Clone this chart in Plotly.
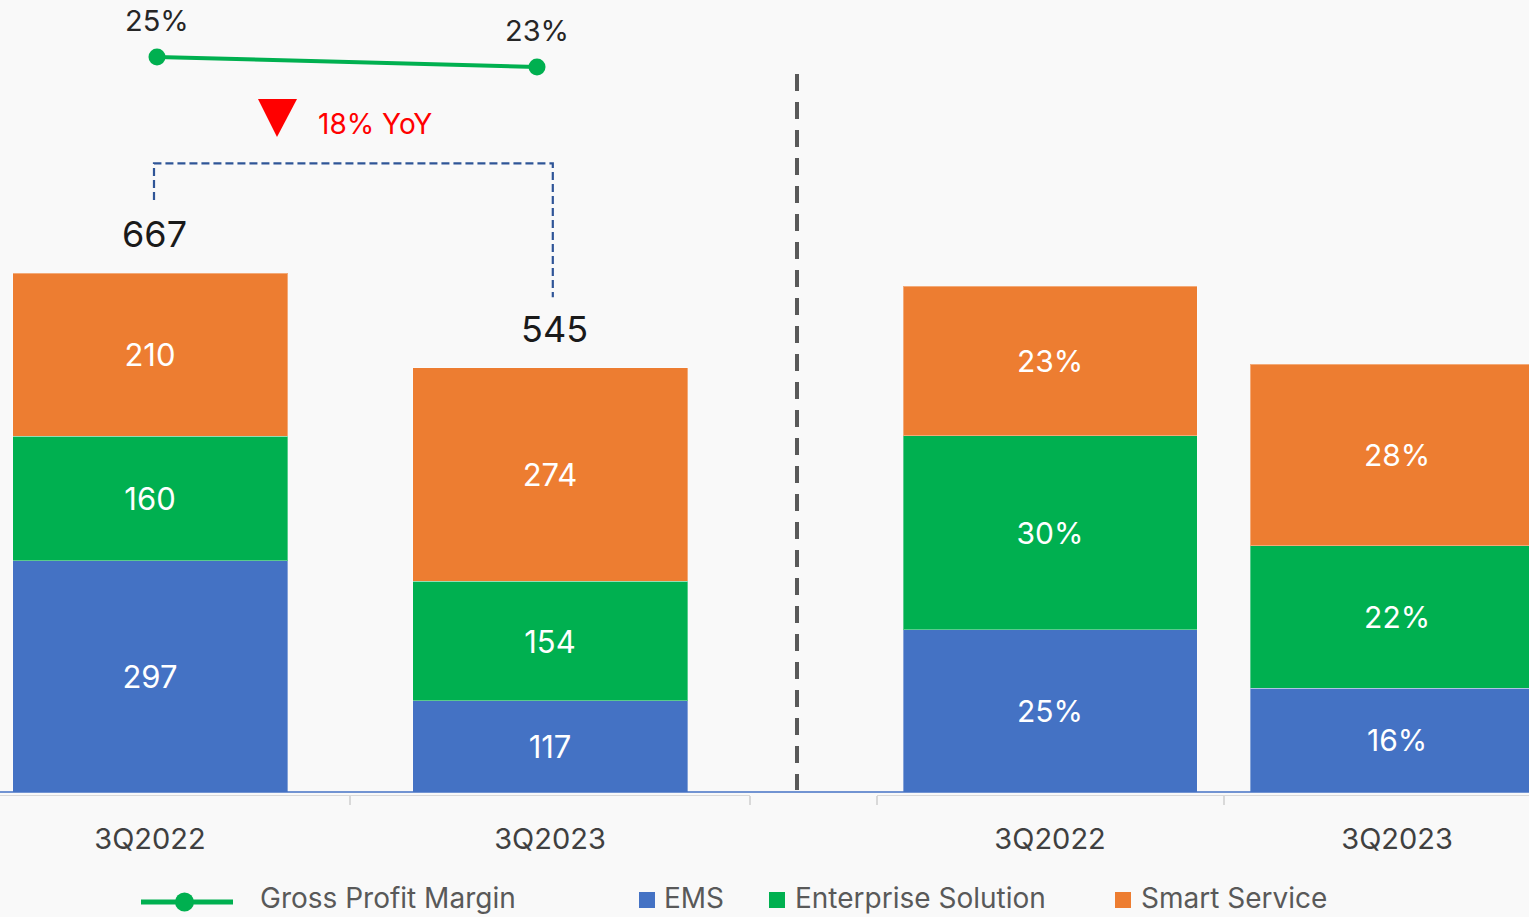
import plotly.graph_objects as go

# data
periods = ["3Q2022", "3Q2023"]
ems_rev = [297, 117]
ent_rev = [160, 154]
smart_rev = [210, 274]
total_rev = [667, 545]
gp_margin = [25, 23]
ems_gpm = [25, 16]
ent_gpm = [30, 22]
smart_gpm = [23, 28]
yoy_label = "18% YoY"
legend_names = ["Gross Profit Margin", "EMS", "Enterprise Solution", "Smart Service"]

W, H = 1529, 917
PLOT_H = 795  # plot area height in px (t=0)

BLUE = "#4472C4"
GREEN = "#00B050"
ORANGE = "#ED7D31"
FONT = "Inter"


def px(x):
    return x / W


def py(y):
    return (PLOT_H - y) / PLOT_H


fig = go.Figure()

# left panel: revenue
for vals, color, name in [(ems_rev, BLUE, "EMS"), (ent_rev, GREEN, "Enterprise Solution"),
                          (smart_rev, ORANGE, "Smart Service")]:
    fig.add_trace(go.Bar(x=periods, y=vals, name=name, marker=dict(color=color, line=dict(color="rgba(255,255,255,0.35)", width=1)),
                         width=0.6875, text=[str(v) for v in vals], textposition="inside",
                         insidetextanchor="middle", textangle=0,
                         textfont=dict(color="white", size=31, family=FONT),
                         xaxis="x", yaxis="y", showlegend=False))

# right panel: segment margins
for vals, color, name in [(ems_gpm, BLUE, "EMS"), (ent_gpm, GREEN, "Enterprise Solution"),
                          (smart_gpm, ORANGE, "Smart Service")]:
    fig.add_trace(go.Bar(x=periods, y=vals, name=name, marker=dict(color=color, line=dict(color="rgba(255,255,255,0.35)", width=1)),
                         width=0.847, text=[f"{v}%" for v in vals], textposition="inside",
                         insidetextanchor="middle", textangle=0,
                         textfont=dict(color="white", size=30, family=FONT),
                         xaxis="x2", yaxis="y2", showlegend=False))

# gross profit margin line
fig.add_trace(go.Scatter(x=periods, y=gp_margin, mode="lines+markers",
                         line=dict(color=GREEN, width=4), marker=dict(color=GREEN, size=17),
                         xaxis="x3", yaxis="y3", showlegend=False, cliponaxis=False))

annotations = []
for p, v in zip(periods, gp_margin):
    annotations.append(dict(x=p, y=v, xref="x3", yref="y3", text=f"{v}%", showarrow=False,
                            yshift=37, font=dict(size=29, color="#262626", family=FONT)))
for p, v in zip(periods, total_rev):
    annotations.append(dict(x=p, y=v, xref="x", yref="y", text=str(v), showarrow=False,
                            yshift=39, xshift=4, font=dict(size=36, color="#1A1A1A", family=FONT)))

annotations.append(dict(x=px(316), y=py(124), xref="paper", yref="paper", xanchor="left",
                        yanchor="middle", text=yoy_label, showarrow=False,
                        font=dict(size=28, color="#FF0000", family=FONT)))

shapes = []
# YoY bracket
shapes.append(dict(type="path", xref="x", yref="y",
                   path=f"M 0.01,{total_rev[0] + 94} L 0.01,{total_rev[0] + 141} "
                        f"L 1.007,{total_rev[0] + 141} L 1.007,{total_rev[1] + 91}",
                   line=dict(color="#2F5597", width=2.2, dash="8px,4px")))
# red down triangle
shapes.append(dict(type="path", xref="paper", yref="paper",
                   path=f"M {px(258)},{py(99)} L {px(297)},{py(99)} L {px(277)},{py(137)} Z",
                   fillcolor="#FF0000", line=dict(width=0)))
# separator
shapes.append(dict(type="line", xref="paper", yref="paper", x0=px(797), x1=px(797),
                   y0=py(74), y1=py(790), line=dict(color="#595959", width=4, dash="17px,11px")))
# baseline
shapes.append(dict(type="line", xref="paper", yref="y", x0=0, x1=1, y0=0, y1=0,
                   line=dict(color=BLUE, width=1.5)))

# legend drawn by hand (nudged up a little so the text is not cut by the page edge)
LEG_Y = 902
shapes.append(dict(type="line", xref="paper", yref="paper", x0=px(141), x1=px(233),
                   y0=py(LEG_Y), y1=py(LEG_Y), line=dict(color=GREEN, width=5)))
shapes.append(dict(type="circle", xref="paper", yref="paper", x0=px(175), x1=px(194),
                   y0=py(LEG_Y - 9.5), y1=py(LEG_Y + 9.5), fillcolor=GREEN, line=dict(width=0)))
for sx, color in [(639, BLUE), (769, GREEN), (1115, ORANGE)]:
    shapes.append(dict(type="rect", xref="paper", yref="paper", x0=px(sx), x1=px(sx + 16),
                       y0=py(LEG_Y - 10), y1=py(LEG_Y + 6), fillcolor=color, line=dict(width=0)))
for tx, name in zip([258, 662, 793, 1139], legend_names):
    annotations.append(dict(x=px(tx), y=py(LEG_Y - 4), xref="paper", yref="paper", xanchor="left",
                            yanchor="middle", text=name, showarrow=False,
                            font=dict(size=28, color="#595959", family=FONT)))

axis_common = dict(type="category", showgrid=False, zeroline=False, showline=True,
                   linecolor="#D9D9D9", linewidth=1, ticks="outside", tickson="boundaries",
                   ticklen=9, tickwidth=2, tickcolor="#D9D9D9", ticklabelstandoff=18,
                   tickfont=dict(size=29, color="#404040", family=FONT), fixedrange=True)

fig.update_layout(
    width=W, height=H,
    margin=dict(l=0, r=0, t=0, b=H - PLOT_H, pad=0),
    paper_bgcolor="#F9F9F9", plot_bgcolor="#F9F9F9",
    barmode="stack",
    font=dict(family=FONT),
    xaxis=dict(domain=[0, px(750)], range=[-0.375, 1.5], anchor="y", **axis_common),
    xaxis2=dict(domain=[px(876.5), 1], range=[-0.5, 1.38], anchor="y2", **axis_common),
    xaxis3=dict(type="category", overlaying="x", range=[-0.4132, 1.5605], visible=False, anchor="y3"),
    yaxis=dict(range=[-3.86, 1018], visible=False),
    yaxis2=dict(range=[-0.463, 122.2], visible=False, anchor="x2"),
    yaxis3=dict(range=[-122.6, 36.4], visible=False, overlaying="y", anchor="x3"),
    annotations=annotations,
    shapes=shapes,
)

# drop the page's default body margin so the figure sits at the window's corner
fig.write_html("out.html", config={"displayModeBar": False},
               post_script="document.body.style.margin='0';document.body.style.overflow='hidden';")
